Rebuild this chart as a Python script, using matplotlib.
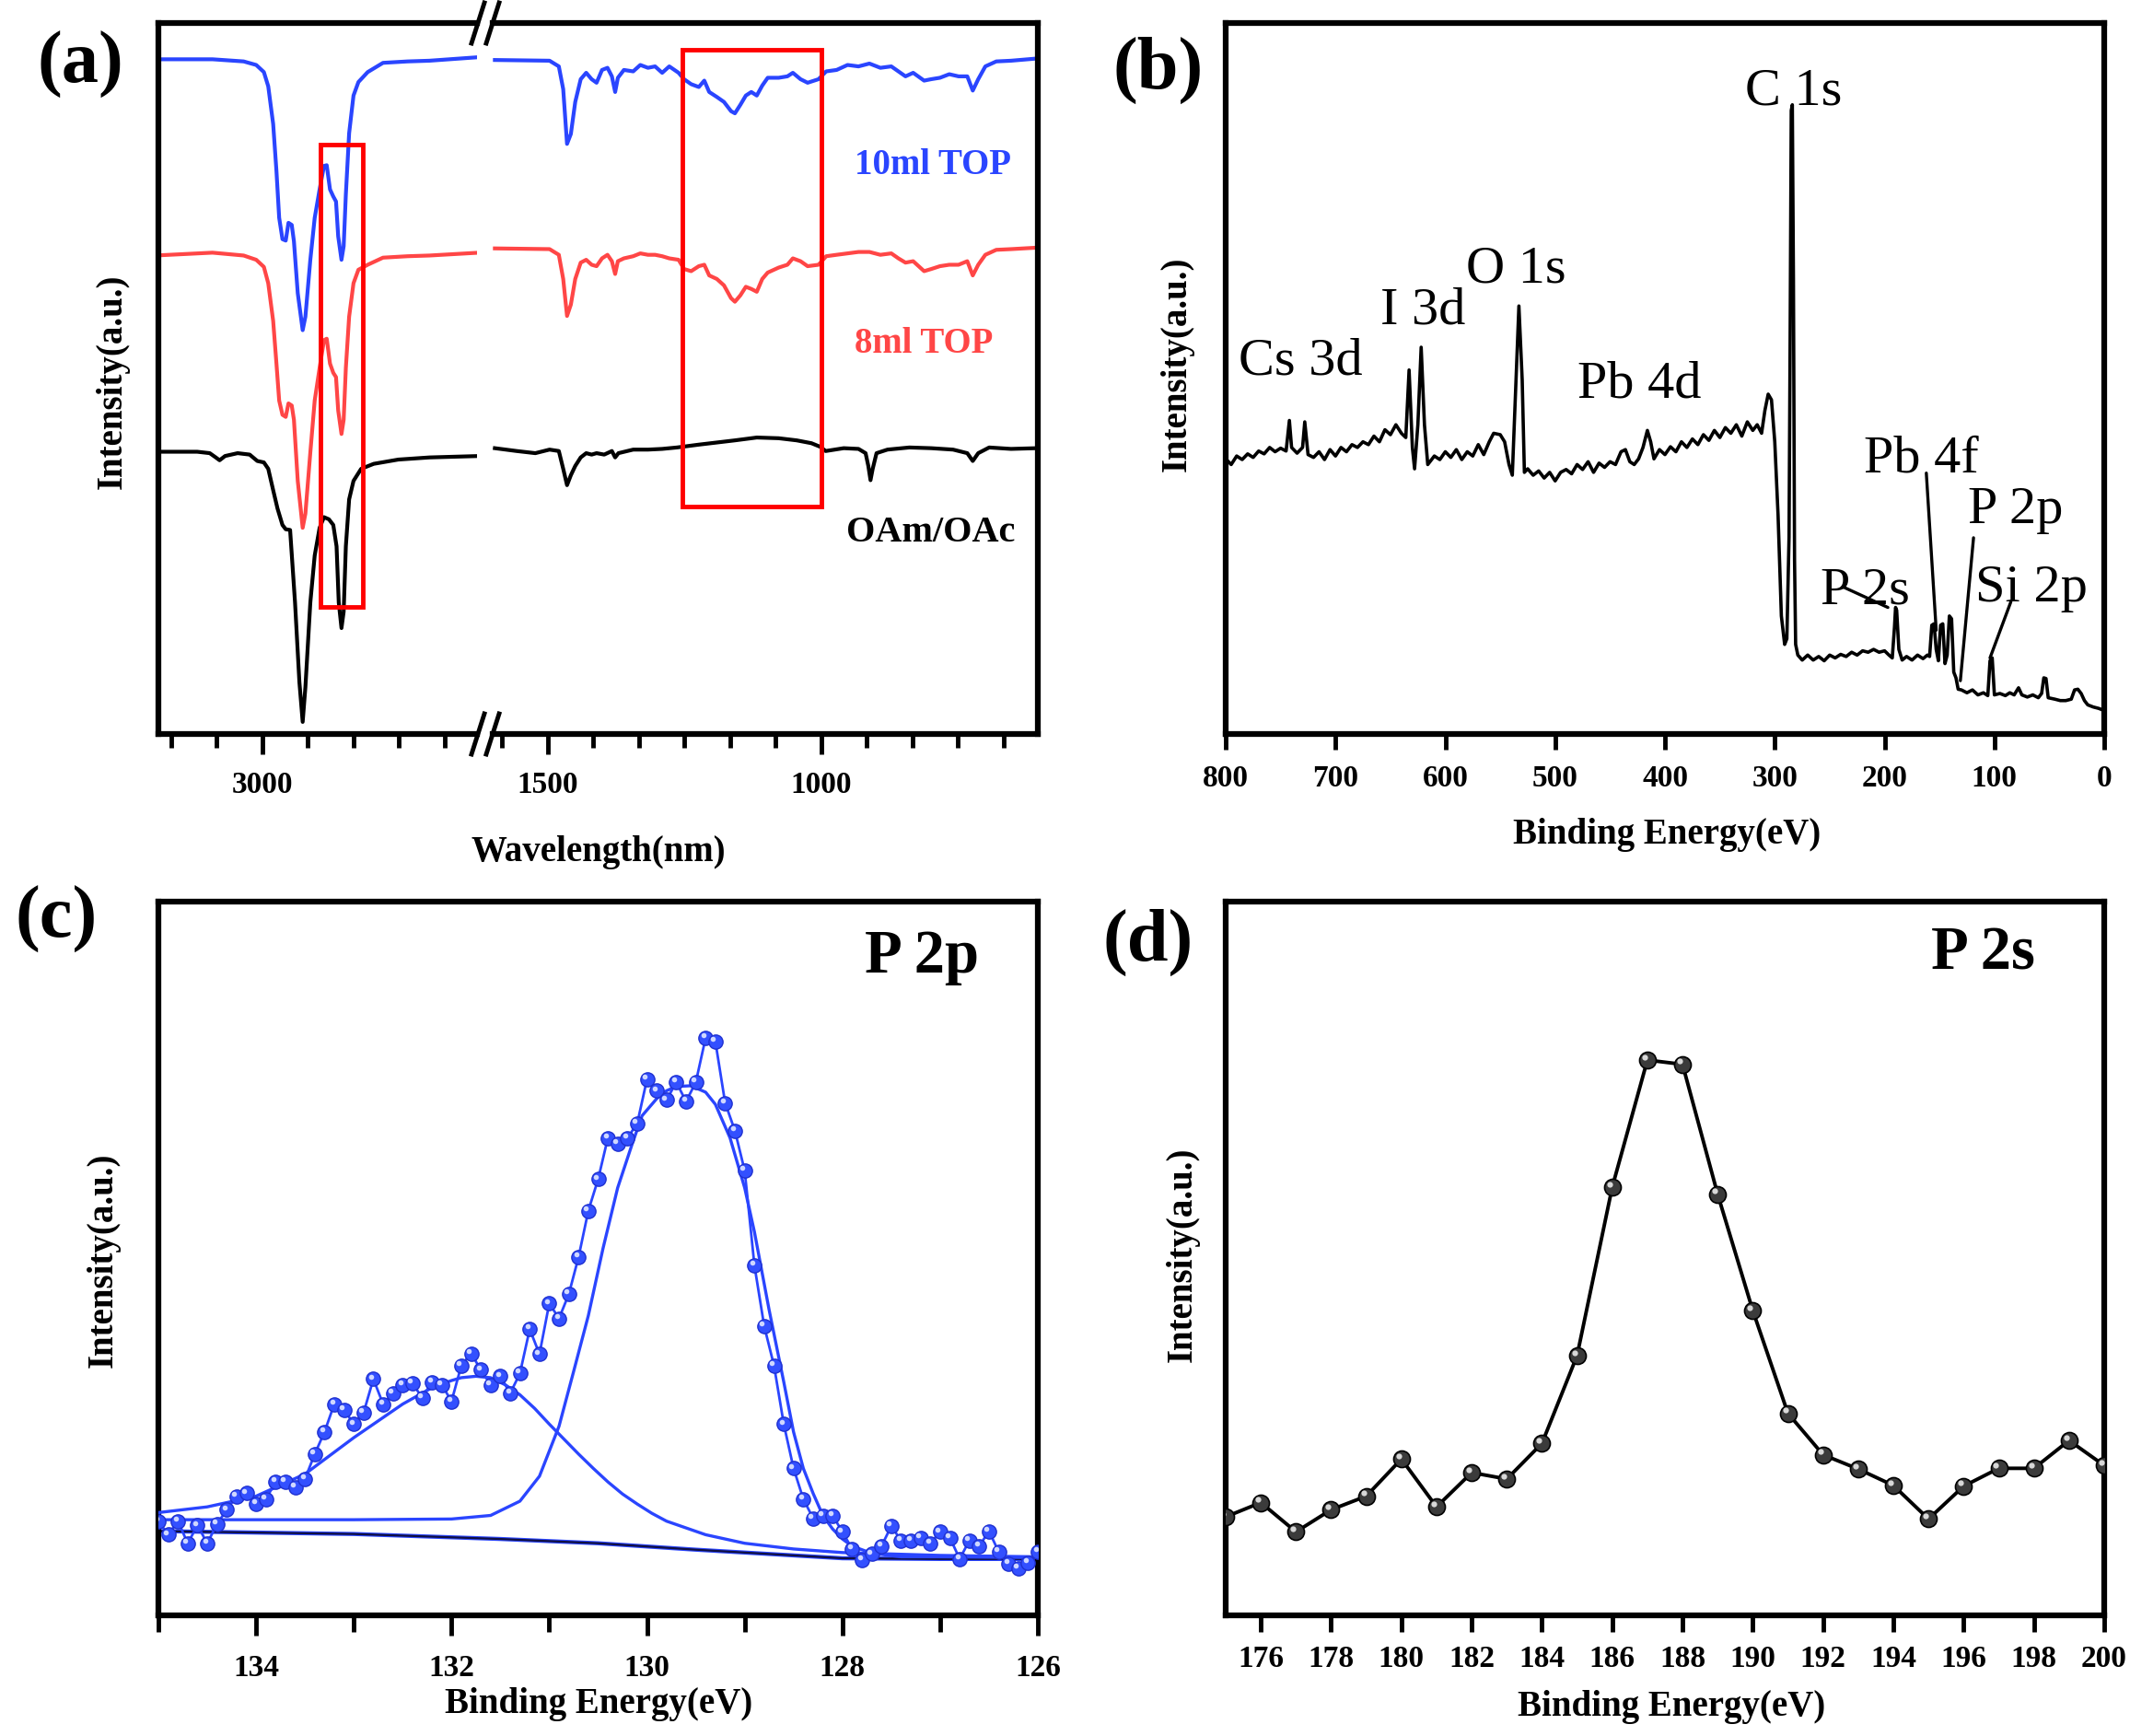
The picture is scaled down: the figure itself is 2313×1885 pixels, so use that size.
import matplotlib.pyplot as plt
import numpy as np
from matplotlib.patches import Rectangle
from matplotlib.ticker import MultipleLocator
from matplotlib.transforms import offset_copy

plt.rcParams['font.family'] = ['Liberation Serif', 'DejaVu Serif']
plt.rcParams['font.weight'] = 'bold'

W, H = 2313, 1885

# ---------------- (a) FTIR, broken x axis ----------------
wn_left = [3196, 3091, 3034, 3011, 2997, 2989, 2980, 2974, 2969, 2963,
           2957, 2952, 2946, 2942, 2935, 2926, 2921, 2912, 2904, 2895,
           2887, 2882, 2876, 2870, 2865, 2861, 2855, 2851, 2847, 2841,
           2833, 2824, 2807, 2779, 2734, 2694, 2603]
top10_left = [0.949, 0.949, 0.946, 0.941, 0.931, 0.911, 0.858, 0.792, 0.726, 0.696,
              0.694, 0.719, 0.716, 0.693, 0.620, 0.568, 0.587, 0.667, 0.726, 0.766,
              0.799, 0.800, 0.766, 0.756, 0.749, 0.700, 0.667, 0.686, 0.759, 0.845,
              0.898, 0.917, 0.931, 0.944, 0.946, 0.947, 0.952]
top8_left = [0.673, 0.677, 0.673, 0.667, 0.657, 0.634, 0.581, 0.521, 0.469, 0.449,
             0.446, 0.465, 0.462, 0.442, 0.356, 0.290, 0.310, 0.396, 0.469, 0.515,
             0.554, 0.556, 0.521, 0.508, 0.502, 0.455, 0.422, 0.442, 0.515, 0.587,
             0.634, 0.653, 0.660, 0.670, 0.672, 0.673, 0.677]
wn_left_oam = [3196, 3119, 3096, 3085, 3078, 3068, 3045, 3023, 3009, 2997,
               2989, 2980, 2972, 2963, 2957, 2949, 2940, 2932, 2926, 2921,
               2912, 2904, 2895, 2887, 2878, 2870, 2864, 2860, 2855, 2851,
               2847, 2841, 2833, 2819, 2796, 2751, 2694, 2603]
oam_left = [0.397, 0.397, 0.395, 0.389, 0.385, 0.391, 0.395, 0.393, 0.384, 0.382,
            0.373, 0.343, 0.317, 0.294, 0.288, 0.287, 0.185, 0.073, 0.017, 0.066,
            0.185, 0.251, 0.290, 0.305, 0.302, 0.294, 0.264, 0.185, 0.149, 0.172,
            0.264, 0.330, 0.356, 0.373, 0.380, 0.386, 0.389, 0.391]

wn_right = [1597, 1497, 1480, 1472, 1465, 1458, 1450, 1440, 1430, 1420,
            1411, 1401, 1391, 1383, 1377, 1372, 1361, 1344, 1331, 1317,
            1304, 1291, 1278, 1261, 1251, 1238, 1224, 1214, 1205, 1191,
            1178, 1165, 1158, 1148, 1138, 1128, 1118, 1108, 1098, 1078,
            1062, 1052, 1038, 1025, 1005, 991, 972, 952, 932, 912,
            892, 872, 859, 846, 832, 812, 799, 783, 766, 749,
            733, 723, 713, 700, 680, 653, 607]
top10_right = [0.948, 0.947, 0.939, 0.907, 0.830, 0.844, 0.889, 0.921, 0.930, 0.921,
               0.916, 0.934, 0.937, 0.925, 0.903, 0.923, 0.934, 0.932, 0.941, 0.937,
               0.939, 0.930, 0.939, 0.930, 0.921, 0.914, 0.910, 0.919, 0.903, 0.896,
               0.889, 0.876, 0.873, 0.885, 0.898, 0.903, 0.898, 0.912, 0.923, 0.923,
               0.925, 0.930, 0.921, 0.916, 0.921, 0.932, 0.934, 0.941, 0.939, 0.943,
               0.937, 0.939, 0.932, 0.925, 0.930, 0.919, 0.921, 0.923, 0.928, 0.925,
               0.925, 0.905, 0.921, 0.939, 0.946, 0.947, 0.950]
top8_right = [0.683, 0.682, 0.674, 0.640, 0.588, 0.604, 0.640, 0.663, 0.667, 0.660,
              0.658, 0.669, 0.674, 0.665, 0.647, 0.665, 0.669, 0.672, 0.676, 0.674,
              0.674, 0.672, 0.669, 0.667, 0.654, 0.651, 0.658, 0.660, 0.645, 0.640,
              0.631, 0.613, 0.608, 0.617, 0.629, 0.626, 0.622, 0.640, 0.649, 0.656,
              0.660, 0.669, 0.665, 0.658, 0.660, 0.672, 0.674, 0.676, 0.678, 0.678,
              0.674, 0.676, 0.669, 0.663, 0.665, 0.651, 0.654, 0.658, 0.660, 0.660,
              0.665, 0.645, 0.660, 0.674, 0.681, 0.682, 0.684]
wn_right_oam = [1597, 1557, 1523, 1497, 1480, 1472, 1465, 1458, 1450, 1440,
                1430, 1420, 1411, 1397, 1383, 1377, 1371, 1344, 1317, 1291,
                1264, 1224, 1191, 1158, 1118, 1078, 1045, 1018, 1002, 992,
                959, 932, 919, 914, 910, 906, 899, 879, 839, 799,
                759, 733, 723, 713, 693, 653, 607]
oam_right = [0.402, 0.398, 0.395, 0.400, 0.398, 0.373, 0.350, 0.364, 0.377, 0.389,
             0.395, 0.393, 0.395, 0.393, 0.398, 0.389, 0.395, 0.400, 0.400, 0.401,
             0.403, 0.407, 0.410, 0.413, 0.417, 0.416, 0.413, 0.409, 0.404, 0.398,
             0.402, 0.401, 0.395, 0.377, 0.357, 0.373, 0.395, 0.400, 0.403, 0.402,
             0.400, 0.395, 0.384, 0.395, 0.403, 0.401, 0.402]

# ---------------- (b) XPS survey ----------------
survey_be = [800, 795, 790, 785, 780, 775, 770, 765, 760, 755, 750, 745, 742, 740, 735, 730, 728, 725,
             720, 715, 710, 705, 700, 695, 690, 685, 680, 675, 670, 665, 660, 655, 650, 645, 640,
             636, 633, 630, 628, 625, 622, 619, 616, 610, 605, 600, 595, 590, 585, 580, 575, 570,
             565, 560, 556, 550, 546, 542, 539, 536, 533, 530, 528, 525, 520, 515, 510, 505, 500,
             495, 490, 485, 480, 475, 470, 465, 460, 455, 450, 445, 440, 436, 432, 428, 424, 420,
             416, 413, 410, 405, 400, 395, 390, 385, 380, 375, 370, 365, 360, 355, 350, 345, 340,
             335, 330, 325, 320, 316, 312, 309, 306, 303, 300, 297, 294, 291, 289, 287, 286, 285,
             284, 283, 282, 281, 279, 275, 270, 265, 260, 255, 250, 245, 240, 235, 230, 225, 220,
             215, 210, 205, 200, 196, 193, 191, 190, 189, 187, 184, 180, 175, 170, 165, 161, 159,
             157, 155, 153, 151, 149, 147, 145, 143, 141, 139, 137, 135, 133, 130, 125, 120, 115,
             110, 106, 104, 102, 100, 95, 90, 86, 82, 78, 75, 70, 65, 60, 57, 55, 53, 51, 45, 40,
             35, 30, 27, 24, 21, 18, 15, 10, 5, 0]
survey_int = [0.387, 0.379, 0.391, 0.386, 0.394, 0.389, 0.398, 0.394, 0.403, 0.397, 0.402, 0.398,
              0.441, 0.403, 0.395, 0.403, 0.439, 0.393, 0.389, 0.397, 0.386, 0.400, 0.391, 0.403,
              0.397, 0.407, 0.403, 0.411, 0.407, 0.419, 0.411, 0.428, 0.421, 0.435, 0.423, 0.417,
              0.512, 0.403, 0.373, 0.435, 0.544, 0.435, 0.379, 0.391, 0.386, 0.397, 0.389, 0.400,
              0.386, 0.397, 0.391, 0.407, 0.393, 0.411, 0.423, 0.421, 0.411, 0.379, 0.364, 0.482,
              0.602, 0.498, 0.368, 0.373, 0.364, 0.370, 0.360, 0.368, 0.356, 0.368, 0.372, 0.366,
              0.379, 0.372, 0.383, 0.368, 0.381, 0.375, 0.383, 0.379, 0.397, 0.400, 0.383, 0.379,
              0.387, 0.403, 0.427, 0.411, 0.387, 0.400, 0.393, 0.404, 0.397, 0.411, 0.403, 0.415,
              0.407, 0.421, 0.413, 0.427, 0.417, 0.431, 0.423, 0.435, 0.419, 0.439, 0.427, 0.435,
              0.423, 0.455, 0.478, 0.470, 0.411, 0.308, 0.166, 0.126, 0.134, 0.277, 0.561, 0.877,
              0.885, 0.640, 0.245, 0.126, 0.111, 0.104, 0.111, 0.104, 0.109, 0.103, 0.111, 0.107,
              0.112, 0.109, 0.115, 0.111, 0.117, 0.115, 0.119, 0.115, 0.117, 0.111, 0.107, 0.150,
              0.178, 0.174, 0.119, 0.104, 0.109, 0.104, 0.111, 0.106, 0.111, 0.109, 0.153, 0.155,
              0.119, 0.103, 0.153, 0.155, 0.099, 0.111, 0.166, 0.162, 0.087, 0.079, 0.063, 0.062,
              0.058, 0.062, 0.055, 0.058, 0.054, 0.103, 0.107, 0.055, 0.057, 0.054, 0.058, 0.055,
              0.065, 0.055, 0.052, 0.055, 0.051, 0.057, 0.079, 0.078, 0.051, 0.049, 0.047, 0.047,
              0.049, 0.062, 0.063, 0.057, 0.047, 0.041, 0.038, 0.036, 0.033]
survey_labels = ['C 1s', 'O 1s', 'I 3d', 'Cs 3d', 'Pb 4d', 'Pb 4f', 'P 2p', 'P 2s', 'Si 2p']
survey_label_be = [283, 536, 620, 732, 423, 167, 81, 218, 66]
survey_label_y = [0.885, 0.636, 0.577, 0.506, 0.474, 0.368, 0.296, 0.183, 0.186]
# leader lines: (start_be, start_y, peak_be, peak_y)
leader_lines = [(238, 0.207, 197, 0.178),
                (162, 0.367, 153, 0.146),
                (119, 0.276, 131, 0.075),
                (85, 0.186, 104, 0.107)]

# ---------------- (c) P 2p high resolution ----------------
p2p_counts = [13.2, 11.3, 13.2, 10.1, 12.6, 10.1, 12.8, 14.8, 16.7, 17.1,
              15.6, 16.3, 18.7, 18.7, 17.9, 19.1, 22.6, 25.7, 29.6, 28.8,
              26.8, 28.4, 33.1, 29.6, 31.1, 32.3, 32.5, 30.5, 32.7, 32.3,
              30.0, 35.0, 36.7, 34.4, 32.3, 33.5, 31.1, 33.9, 40.1, 36.6,
              43.7, 41.6, 45.0, 50.2, 56.7, 61.1, 66.9, 66.1, 66.9, 68.9,
              75.1, 73.5, 72.2, 74.7, 72.0, 74.7, 80.9, 80.4, 71.8, 67.9,
              62.3, 49.0, 40.5, 35.0, 26.8, 20.6, 16.3, 13.6, 14.0, 14.0,
              11.7, 9.3, 7.8, 8.6, 9.7, 12.5, 10.5, 10.5, 10.9, 10.1,
              11.7, 10.9, 7.9, 10.5, 9.7, 11.8, 8.9, 7.2, 6.6, 7.4, 8.9]
p2p_be = np.linspace(135.0, 126.0, len(p2p_counts))

fit1_be = [135.0, 134.5, 134.0, 133.5, 133.0, 132.5, 132.2, 132.0, 131.9, 131.75, 131.6, 131.45,
           131.3, 131.15, 131.0, 130.85, 130.7, 130.55, 130.4, 130.25, 130.1, 129.95, 129.8,
           129.4, 129.0, 128.5, 128.0, 127.0, 126.0]
fit1_int = [14.4, 15.2, 16.7, 19.8, 24.9, 29.6, 31.9, 32.9, 33.3, 33.5, 33.3, 32.3,
            30.9, 29.0, 26.8, 24.7, 22.6, 20.6, 18.7, 17.0, 15.6, 14.3, 13.2,
            11.3, 10.1, 9.3, 8.8, 8.4, 8.2]
fit2_be = [135.0, 133.0, 132.0, 131.6, 131.3, 131.1, 130.9, 130.75, 130.6, 130.45, 130.3, 130.15,
           130.05, 129.9, 129.8, 129.7, 129.55, 129.4, 129.3, 129.15, 129.0, 128.9, 128.75, 128.6,
           128.5, 128.4, 128.3, 128.2, 128.1, 128.0, 127.9, 127.7, 127.4, 127.0, 126.0]
fit2_int = [13.4, 13.4, 13.5, 14.0, 16.0, 19.5, 26.5, 34.2, 42.0, 51.4, 59.9, 66.1,
            70.0, 72.4, 73.5, 74.1, 74.2, 73.3, 71.6, 66.9, 59.9, 53.7, 42.8, 32.7,
            25.7, 20.6, 17.1, 14.0, 12.1, 10.7, 9.7, 8.7, 8.2, 8.2, 8.1]
bg_be = [135.0, 133.0, 131.5, 130.5, 129.5, 128.5, 128.0, 127.0, 126.0]
bg_int = [11.8, 11.4, 10.7, 10.1, 9.2, 8.4, 8.0, 7.9, 7.9]

# ---------------- (d) P 2s ----------------
p2s_be = [175, 176, 177, 178, 179, 180, 181, 182, 183, 184, 185, 186, 187,
          188, 189, 190, 191, 192, 193, 194, 195, 196, 197, 198, 199, 200]
p2s_counts = [13.8, 15.8, 11.7, 14.8, 16.7, 21.9, 15.2, 20.0, 19.1, 24.1, 36.4, 60.0, 77.8,
              77.2, 59.0, 42.7, 28.3, 22.5, 20.5, 18.2, 13.5, 18.1, 20.6, 20.6, 24.5, 21.0]

blue = '#2a45ff'
red = '#ff4646'
spine_w = 4.5


def rect(l, t, r, b):
    return [l / W, 1 - b / H, (r - l) / W, (b - t) / H]


def style(ax, sides=('left', 'right', 'top', 'bottom')):
    for s in ax.spines:
        ax.spines[s].set_linewidth(spine_w)
        ax.spines[s].set_visible(s in sides)
    ax.set_yticks([])
    ax.tick_params(axis='x', which='both', direction='out', width=3.5, labelsize=24)
    for lab in ax.get_xticklabels():
        lab.set_fontweight('bold')


fig = plt.figure(figsize=(W / 100, H / 100), dpi=100)

# (a)
axL = fig.add_axes(rect(172, 25, 518, 797))
axR = fig.add_axes(rect(535, 25, 1127, 797))
axL.plot(wn_left, top10_left, color=blue, lw=3.0)
axL.plot(wn_left, top8_left, color=red, lw=3.0)
axL.plot(wn_left_oam, oam_left, color='black', lw=3.0)
axR.plot(wn_right, top10_right, color=blue, lw=3.0)
axR.plot(wn_right, top8_right, color=red, lw=3.0)
axR.plot(wn_right_oam, oam_right, color='black', lw=3.0)
axL.set_xlim(3190, 2607)
axR.set_xlim(1601, 604)
for ax in (axL, axR):
    ax.set_ylim(0, 1)
    ax.xaxis.set_major_locator(MultipleLocator(500))
    ax.xaxis.set_minor_locator(MultipleLocator(500 / 6))
    ax.tick_params(axis='x', which='major', length=16, pad=13)
    ax.tick_params(axis='x', which='minor', length=11)
style(axL, ('left', 'top', 'bottom'))
style(axR, ('right', 'top', 'bottom'))
axL.add_patch(Rectangle((2893, 0.179), 2816 - 2893, 0.829 - 0.179, fill=False,
                        edgecolor='#ff0000', lw=3.5, zorder=5))
axR.add_patch(Rectangle((1254, 0.320), 1000 - 1254, 0.963 - 0.320, fill=False,
                        edgecolor='#ff0000', lw=3.5, zorder=5))
axR.text(796, 0.787, '10ml TOP', color=blue, fontsize=28, fontweight='bold', ha='center', va='baseline')
axR.text(813, 0.536, '8ml TOP', color=red, fontsize=28, fontweight='bold', ha='center', va='baseline')
axR.text(800, 0.271, 'OAm/OAc', color='black', fontsize=29, fontweight='bold', ha='center', va='baseline')
# break marks
for yc in (25, 797):
    for xc in (519, 535):
        fig.add_artist(plt.Line2D([(xc - 7) / W, (xc + 7) / W],
                                  [1 - (yc + 22) / H, 1 - (yc - 22) / H],
                                  color='black', lw=3.5))

# (b)
axb = fig.add_axes(rect(1331, 25, 2285, 797))
axb.plot(survey_be, survey_int, color='black', lw=2.6)
axb.set_xlim(800, 0)
axb.set_ylim(0, 1)
axb.set_xticks(range(800, -1, -100))
style(axb)
axb.tick_params(axis='x', which='major', length=12, pad=12)
for lab, xb, yb in zip(survey_labels, survey_label_be, survey_label_y):
    axb.text(xb, yb, lab, fontsize=42, fontweight='normal', ha='center', va='baseline')
for x0, y0, x1, y1 in leader_lines:
    axb.annotate('', xy=(x1, y1), xytext=(x0, y0),
                 arrowprops=dict(arrowstyle='-', color='black', lw=2.4, shrinkA=0, shrinkB=0))

# (c)
axc = fig.add_axes(rect(172, 979, 1127, 1754))
axc.plot(bg_be, bg_int, color=blue, lw=3.2, zorder=2)
axc.plot(bg_be, bg_int, color='#101040', lw=1.6, zorder=2)
axc.plot(fit1_be, fit1_int, color=blue, lw=2.4, zorder=3)
axc.plot(fit2_be, fit2_int, color=blue, lw=2.4, zorder=3)
axc.plot(p2p_be, p2p_counts, color=blue, lw=2.0, marker='o', ms=11,
         mfc='#3350ff', mec='#1f30d0', mew=1.0, zorder=4)
hl = offset_copy(axc.transData, fig=fig, x=-1.8, y=2.0, units='points')
axc.plot(p2p_be, p2p_counts, ls='none', marker='o', ms=4, mfc='#d0d8ff', mec='none',
         transform=hl, zorder=5)
axc.set_xlim(135, 126)
axc.set_ylim(0, 100)
axc.xaxis.set_major_locator(MultipleLocator(2))
axc.xaxis.set_minor_locator(MultipleLocator(1))
style(axc)
axc.tick_params(axis='x', which='major', length=16, pad=14)
axc.tick_params(axis='x', which='minor', length=13)
axc.text(127.19, 90.0, 'P 2p', fontsize=48, fontweight='bold', ha='center', va='baseline')

# (d)
axd = fig.add_axes(rect(1331, 979, 2285, 1754))
axd.plot(p2s_be, p2s_counts, color='black', lw=2.8, marker='o', ms=13,
         mfc='#3b3b3b', mec='black', mew=1.2, zorder=4)
hl2 = offset_copy(axd.transData, fig=fig, x=-2.2, y=2.4, units='points')
axd.plot(p2s_be, p2s_counts, ls='none', marker='o', ms=4.5, mfc='#d8d8d8', mec='none',
         transform=hl2, zorder=5)
axd.set_xlim(175, 200)
axd.set_ylim(0, 100)
axd.set_xticks(range(176, 201, 2))
style(axd)
axd.tick_params(axis='x', which='major', length=13, pad=10)
axd.text(196.56, 90.5, 'P 2s', fontsize=48, fontweight='bold', ha='center', va='baseline')


# axis labels and panel letters
def ftext(x, y, s, **kw):
    fig.text(x / W, 1 - y / H, s, ha='center', va='center', fontweight='bold', **kw)


ftext(650, 925, 'Wavelength(nm)', fontsize=28)
ftext(1810, 906, 'Binding Energy(eV)', fontsize=28)
ftext(650, 1850, 'Binding Energy(eV)', fontsize=28)
ftext(1815, 1853, 'Binding Energy(eV)', fontsize=28)
ftext(122, 414, 'Intensity(a.u.)', fontsize=28, rotation=90)
ftext(1278, 395, 'Intensity(a.u.)', fontsize=28, rotation=90)
ftext(112, 1368, 'Intensity(a.u.)', fontsize=28, rotation=90)
ftext(1284, 1362, 'Intensity(a.u.)', fontsize=28, rotation=90)
ftext(87, 70, '(a)', fontsize=58)
ftext(1258, 76, '(b)', fontsize=58)
ftext(61, 998, '(c)', fontsize=58)
ftext(1247, 1023, '(d)', fontsize=58)

fig.savefig('out.png', dpi=100)
